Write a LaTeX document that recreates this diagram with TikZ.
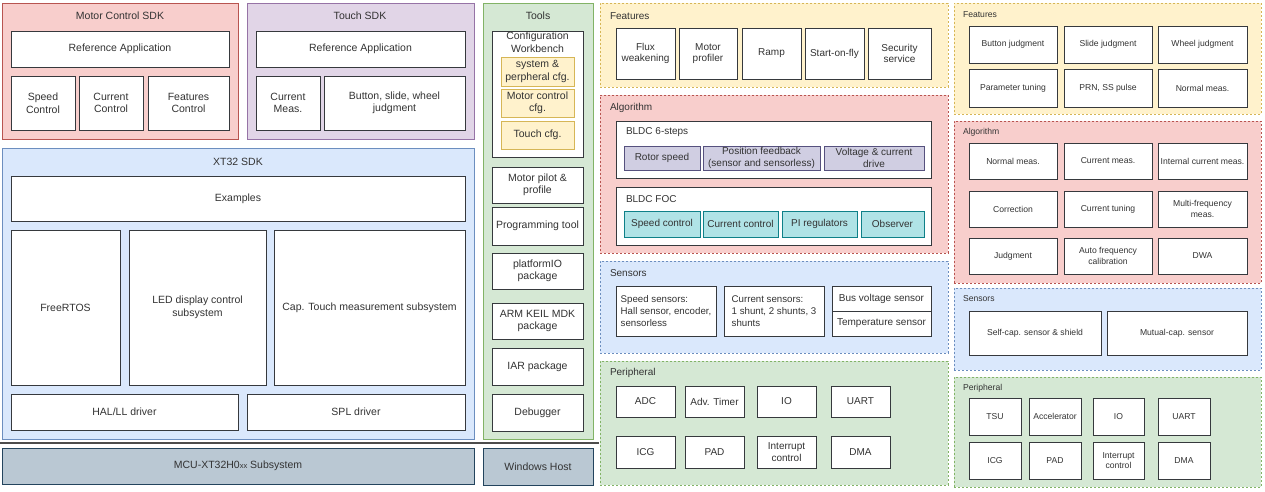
\documentclass[tikz,border=0pt]{standalone}
\usepackage{fontspec}
\setmainfont{Liberation Sans}
\definecolor{redf}{HTML}{F8CECC}\definecolor{reds}{HTML}{B85450}
\definecolor{purf}{HTML}{E1D5E7}\definecolor{purs}{HTML}{9673A6}
\definecolor{bluf}{HTML}{DAE8FC}\definecolor{blus}{HTML}{6C8EBF}
\definecolor{grnf}{HTML}{D5E8D4}\definecolor{grns}{HTML}{82B366}
\definecolor{yelf}{HTML}{FFF2CC}\definecolor{yels}{HTML}{D6B656}
\definecolor{mcuf}{HTML}{BAC8D3}\definecolor{mcus}{HTML}{23445D}
\definecolor{tealf}{HTML}{B0E3E6}\definecolor{teals}{HTML}{0E8088}
\definecolor{lavf}{HTML}{D0CEE2}\definecolor{lavs}{HTML}{56517E}
\definecolor{bstroke}{HTML}{36393D}
\definecolor{txt}{HTML}{333333}
\newcommand{\bx}[7]{\node[#1, anchor=north west, minimum width={#5pt-#3pt}, minimum height={#6pt-#4pt}] (#2) at (#3,#4) {#7};}
\tikzset{
  fontL/.style={font=\fontsize{10.5}{12.5}\selectfont},
  fontM/.style={font=\fontsize{10}{11.5}\selectfont},
  fontS/.style={font=\fontsize{8.6}{10.5}\selectfont},
  base/.style={inner sep=1pt, outer sep=0pt, align=center, text=txt, line width=0.9pt},
  box/.style={base, draw=bstroke, fill=white},
  cont/.style={base, line width=0.9pt},
  dotbox/.style={base, dash pattern=on 2pt off 2pt, line width=0.8pt},
  red/.style={fill=redf, draw=reds},
  pur/.style={fill=purf, draw=purs},
  blu/.style={fill=bluf, draw=blus},
  grn/.style={fill=grnf, draw=grns},
  yel/.style={fill=yelf, draw=yels},
  mcu/.style={base, fill=mcuf, draw=mcus},
  teal/.style={base, fill=tealf, draw=teals},
  lav/.style={base, fill=lavf, draw=lavs},
  ttl/.style={base, inner sep=0pt},
  ttlw/.style={base, inner sep=0pt, anchor=west},
  sepline/.style={draw=black!70, line width=1.3pt},
}
\begin{document}
\begin{tikzpicture}[x=1pt,y=-1pt]
\useasboundingbox[fill=white] (0,0) rectangle (1265,492);
% ---------------- left column ----------------
\begin{scope}[fontL]
\bx{cont,red}{mc}{2}{3}{238}{139}{}
\node[ttl] (mct) at (120,16) {Motor Control SDK};
\bx{box}{mcref}{11}{31}{229}{67}{Reference Application}
\bx{box}{mcsp}{11}{76}{75}{130}{Speed\\Control}
\bx{box}{mccur}{79}{76}{143}{130}{Current\\Control}
\bx{box}{mcfeat}{148}{76}{229}{130}{Features\\Control}
\bx{cont,pur}{ts}{247}{3}{474}{139}{}
\node[ttl] (tst) at (360,16) {Touch SDK};
\bx{box}{tsref}{256}{31}{465}{67}{Reference Application}
\bx{box}{tscur}{256}{76}{320}{130}{Current\\Meas.}
\bx{box}{tsbtn}{324}{76}{465}{130}{Button, slide, wheel\\judgment}
\bx{cont,blu}{xt}{2}{148}{474}{439}{}
\node[ttl] (xtt) at (238,162) {XT32 SDK};
\bx{box}{ex}{11}{176}{465}{221}{Examples}
\bx{box}{rtos}{11}{230}{120}{385}{FreeRTOS}
\bx{box}{led}{129}{230}{266}{385}{LED display control\\subsystem}
\bx{box}{cap}{274}{230}{465}{385}{Cap. Touch measurement subsystem}
\bx{box}{hal}{11}{394}{238}{430}{HAL/LL driver}
\bx{box}{spl}{247}{394}{465}{430}{SPL driver}
\coordinate (sepL) at (0,443);
\coordinate (sepR) at (599,443);
\draw[sepline] (sepL) -- (sepR);
\bx{mcu}{mcub}{2}{448}{474}{484}{MCU-XT32H0{\fontsize{7.5}{8}\selectfont xx} Subsystem}
\bx{mcu}{win}{483}{448}{593}{485}{Windows Host}
% ---------------- tools ----------------
\bx{cont,grn}{tools}{483}{3}{593}{439}{}
\node[ttl] (toolst) at (538,16) {Tools};
\bx{box}{cw}{492}{31}{583}{157}{}
\node[ttl] (cwt) at (537.5,42) {Configuration\\Workbench};
\bx{base,yel}{ysys}{501}{57}{574}{86}{system \&\\perpheral cfg.}
\bx{base,yel}{ymc}{501}{89}{574}{117}{Motor control\\cfg.}
\bx{base,yel}{ytc}{501}{121}{574}{149}{Touch cfg.}
\bx{box}{mp}{492}{167}{583}{203}{Motor pilot \&\\profile}
\bx{box}{pt}{492}{207}{583}{245}{Programming tool}
\bx{box}{pio}{492}{253}{583}{289}{platformIO\\package}
\bx{box}{keil}{492}{303}{583}{339}{ARM KEIL MDK\\package}
\bx{box}{iar}{492}{348}{583}{385}{IAR package}
\bx{box}{dbg}{492}{394}{583}{431}{Debugger}
\end{scope}
% ---------------- middle column ----------------
\begin{scope}[fontM]
\bx{dotbox,yel}{mfeat}{600}{3}{948}{87}{}
\node[ttlw] (mfeatt) at (610,16) {Features};
\bx{box}{flux}{616}{28}{675}{79}{Flux\\weakening}
\bx{box}{mprof}{679}{28}{737}{79}{Motor\\profiler}
\bx{box}{ramp}{742}{28}{801}{79}{Ramp}
\bx{box}{sof}{805}{28}{864}{79}{Start-on-fly}
\bx{box}{sec}{868}{28}{931}{79}{Security\\service}
\bx{dotbox,red}{malg}{600}{95}{948}{253}{}
\node[ttlw] (malgt) at (610,108) {Algorithm};
\bx{box}{six}{616}{121}{931}{178}{}
\node[ttlw] (sixt) at (626,132) {BLDC 6-steps};
\bx{lav}{rs}{624}{146}{700}{170}{Rotor speed}
\bx{lav}{pf}{703}{146}{820}{170}{Position feedback\\(sensor and sensorless)}
\bx{lav}{vc}{824}{146}{924}{170}{Voltage \& current\\drive}
\bx{box}{foc}{616}{187}{931}{245}{}
\node[ttlw] (foct) at (626,199) {BLDC FOC};
\bx{teal}{sc}{624}{211}{700}{237}{Speed control}
\bx{teal}{cc}{703}{211}{778}{237}{Current control}
\bx{teal}{pi}{782}{211}{857}{237}{PI regulators}
\bx{teal}{obs}{861}{211}{924}{237}{Observer}
\bx{dotbox,blu}{msen}{600}{261}{948}{353}{}
\node[ttlw] (msent) at (610,273) {Sensors};
\bx{box,align=left,font=\fontsize{9.7}{12}\selectfont}{ssen}{616}{286}{716}{336}{Speed sensors:\\Hall sensor, encoder,\\sensorless}
\bx{box,align=left,font=\fontsize{9.7}{12}\selectfont}{csen}{724}{286}{824}{336}{Current sensors:\\1 shunt, 2 shunts, 3\\shunts}
\bx{box}{bv}{832}{286}{931}{311}{Bus voltage sensor}
\bx{box}{temp}{832}{311}{931}{336}{Temperature sensor}
\bx{dotbox,grn}{mper}{600}{361}{948}{485}{}
\node[ttlw] (mpert) at (610,373) {Peripheral};
\bx{box}{adc}{616}{386}{675}{417}{ADC}
\bx{box}{adv}{685}{386}{744}{417}{Adv. Timer}
\bx{box}{mio}{757}{386}{816}{417}{IO}
\bx{box}{muart}{831}{386}{890}{417}{UART}
\bx{box}{micg}{616}{436}{675}{468}{ICG}
\bx{box}{mpad}{685}{436}{744}{468}{PAD}
\bx{box}{mint}{757}{436}{816}{468}{Interrupt\\control}
\bx{box}{mdma}{831}{436}{890}{468}{DMA}
\end{scope}
% ---------------- right column ----------------
\begin{scope}[fontS]
\bx{dotbox,yel}{rfeat}{954}{3}{1261}{114}{}
\node[ttlw] (rfeatt) at (963,15) {Features};
\bx{box}{bj}{969}{26}{1057}{63}{Button judgment}
\bx{box}{sj}{1064}{26}{1152}{63}{Slide judgment}
\bx{box}{wj}{1158}{26}{1247}{63}{Wheel judgment}
\bx{box}{ptun}{969}{69}{1057}{107}{Parameter tuning}
\bx{box}{prn}{1064}{69}{1152}{107}{PRN, SS pulse}
\bx{box}{nm1}{1158}{69}{1247}{107}{Normal meas.}
\bx{dotbox,red}{ralg}{954}{121}{1261}{283}{}
\node[ttlw] (ralgt) at (963,132) {Algorithm};
\bx{box}{nm2}{969}{143}{1057}{179}{Normal meas.}
\bx{box}{cm}{1064}{143}{1152}{179}{Current meas.}
\bx{box}{icm}{1158}{143}{1247}{179}{Internal current meas.}
\bx{box}{corr}{969}{191}{1057}{227}{Correction}
\bx{box}{ctun}{1064}{191}{1152}{227}{Current tuning}
\bx{box}{mfm}{1158}{191}{1247}{227}{Multi-frequency\\meas.}
\bx{box}{judg}{969}{238}{1057}{274}{Judgment}
\bx{box}{afc}{1064}{238}{1152}{274}{Auto frequency\\calibration}
\bx{box}{dwa}{1158}{238}{1247}{274}{DWA}
\bx{dotbox,blu}{rsen}{954}{288}{1261}{370}{}
\node[ttlw] (rsent) at (963,299) {Sensors};
\bx{box}{self}{969}{311}{1101}{355}{Self-cap. sensor \& shield}
\bx{box}{mut}{1107}{311}{1247}{355}{Mutual-cap. sensor}
\bx{dotbox,grn}{rper}{954}{377}{1261}{487}{}
\node[ttlw] (rpert) at (963,388) {Peripheral};
\bx{box}{tsu}{969}{398}{1021}{435}{TSU}
\bx{box}{acc}{1029}{398}{1081}{435}{Accelerator}
\bx{box}{rio}{1093}{398}{1144}{435}{IO}
\bx{box}{ruart}{1158}{398}{1210}{435}{UART}
\bx{box}{ricg}{969}{442}{1021}{479}{ICG}
\bx{box}{rpad}{1029}{442}{1081}{479}{PAD}
\bx{box}{rint}{1093}{442}{1144}{479}{Interrupt\\control}
\bx{box}{rdma}{1158}{442}{1210}{479}{DMA}
\end{scope}
\end{tikzpicture}
\end{document}
